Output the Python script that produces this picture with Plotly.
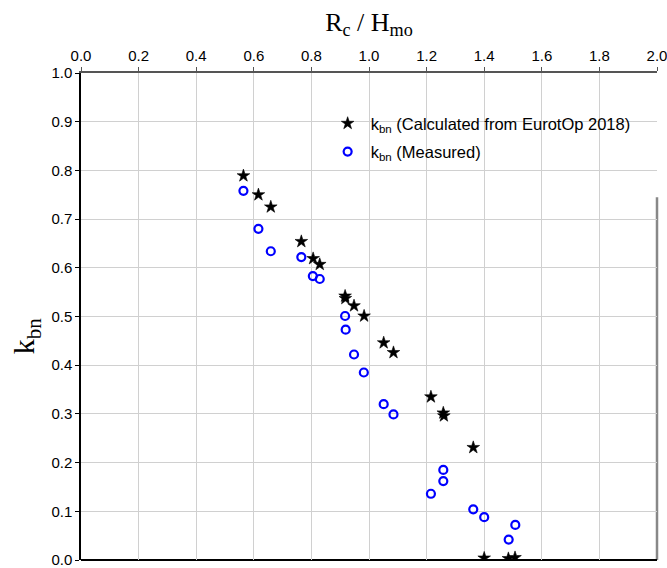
import plotly.graph_objects as go

# Calculated (EurotOp 2018)
calc_x = [0.564, 0.616, 0.659, 0.765, 0.806, 0.829, 0.917, 0.918, 0.948, 0.983,
          1.051, 1.085, 1.215, 1.258, 1.260, 1.362, 1.400, 1.484, 1.507]
calc_y = [0.789, 0.750, 0.725, 0.654, 0.619, 0.607, 0.542, 0.537, 0.522, 0.501,
          0.446, 0.426, 0.335, 0.302, 0.296, 0.231, 0.004, 0.003, 0.005]

# Measured
meas_x = [0.564, 0.616, 0.659, 0.765, 0.805, 0.829, 0.917, 0.919, 0.948, 0.982,
          1.051, 1.085, 1.215, 1.258, 1.258, 1.362, 1.400, 1.485, 1.508]
meas_y = [0.758, 0.680, 0.634, 0.622, 0.583, 0.577, 0.501, 0.473, 0.422, 0.385,
          0.320, 0.299, 0.136, 0.185, 0.162, 0.104, 0.088, 0.042, 0.072]

x_ticks = [0.0, 0.2, 0.4, 0.6, 0.8, 1.0, 1.2, 1.4, 1.6, 1.8, 2.0]
y_ticks = [0.0, 0.1, 0.2, 0.3, 0.4, 0.5, 0.6, 0.7, 0.8, 0.9, 1.0]

fig = go.Figure()
fig.add_trace(go.Scatter(
    x=calc_x, y=calc_y, mode="markers",
    name="k<sub>bn</sub> (Calculated from EurotOp 2018)",
    marker=dict(symbol="star", size=9.5, color="black", line=dict(width=0.6, color="black")),
    legend="legend"))
fig.add_trace(go.Scatter(
    x=meas_x, y=meas_y, mode="markers",
    name="k<sub>bn</sub> (Measured)",
    marker=dict(symbol="circle-open", size=8, color="#0000ff", line=dict(width=2.2, color="#0000ff")),
    legend="legend2"))

legend_font = dict(family="Liberation Sans, Arial", size=16.5, color="black")

fig.update_layout(
    width=667, height=568,
    margin=dict(l=81, r=10, t=73, b=8),
    paper_bgcolor="white", plot_bgcolor="white",
    font=dict(family="Liberation Sans, Arial", size=14, color="black"),
    showlegend=True,
    legend=dict(x=0.423, y=0.932, xanchor="left", yanchor="top",
                bgcolor="rgba(0,0,0,0)", font=legend_font, itemwidth=36),
    legend2=dict(x=0.423, y=0.874, xanchor="left", yanchor="top",
                 bgcolor="rgba(0,0,0,0)", font=legend_font, itemwidth=36),
    xaxis=dict(
        range=[0, 2.0], side="top", tickvals=x_ticks,
        ticktext=[f"{v:.1f}" for v in x_ticks],
        ticks="outside", ticklen=4, tickcolor="#555555", tickwidth=1,
        showline=True, linecolor="#555555", linewidth=2,
        showgrid=True, gridcolor="#d0d0d0", gridwidth=1, zeroline=False,
        tickfont=dict(family="Liberation Sans, Arial", size=15),
        ticklabeloverflow="allow", automargin=False,
        title=dict(text="R<sub>c</sub> / H<sub>mo</sub>",
                   font=dict(family="Liberation Serif, Times New Roman", size=26),
                   standoff=8),
    ),
    xaxis2=dict(
        range=[0, 2.0], side="top", overlaying="x", tickvals=x_ticks,
        ticks="inside", ticklen=4, tickcolor="#555555", tickwidth=1,
        showticklabels=False, showgrid=False, zeroline=False, showline=False,
        automargin=False,
    ),
    yaxis=dict(
        range=[0, 1.0], tickvals=y_ticks,
        ticktext=[f"{v:.1f}" for v in y_ticks],
        ticks="outside", ticklen=4, tickcolor="black", tickwidth=1,
        showline=True, linecolor="black", linewidth=1.5,
        showgrid=True, gridcolor="#d0d0d0", gridwidth=1, zeroline=False,
        tickfont=dict(family="Liberation Sans, Arial", size=15),
        ticklabeloverflow="allow", automargin=False,
    ),
    annotations=[
        dict(text="k<sub>bn</sub>", xref="paper", yref="paper",
             x=-0.095, y=0.46, xanchor="center", yanchor="middle",
             textangle=-90, showarrow=False,
             font=dict(family="Liberation Serif, Times New Roman", size=30, color="black")),
    ],
    shapes=[
        dict(type="line", xref="paper", yref="paper", x0=1, x1=1, y0=0, y1=1,
             line=dict(color="#888888", width=2.5), layer="between"),
        dict(type="rect", xref="paper", yref="paper", x0=0.38, x1=1.01, y0=0.745, y1=1.0,
             fillcolor="white", line=dict(width=0), layer="between"),
        dict(type="line", xref="paper", yref="paper", x0=0, x1=1, y0=0, y1=0,
             line=dict(color="black", width=2), layer="between"),
    ],
)

fig.write_html("out.html")
